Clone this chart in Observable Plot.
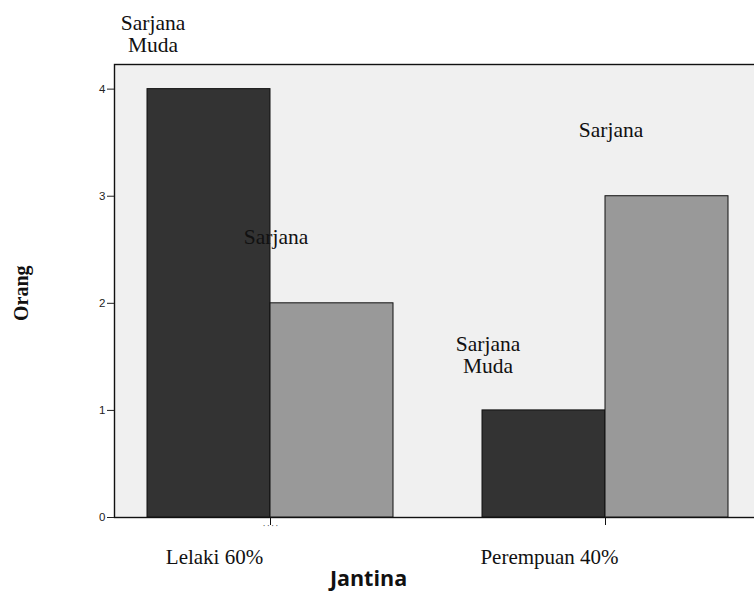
<!DOCTYPE html>
<html>
<head>
<meta charset="utf-8">
<script src="https://cdn.jsdelivr.net/npm/d3@7"></script>
<script src="https://cdn.jsdelivr.net/npm/@observablehq/plot@0.6"></script>
<style>
  html, body { margin: 0; padding: 0; background: #fff; overflow: hidden; }
  #chart svg { max-width: none !important; }
</style>
</head>
<body>
<div id="chart"></div>
<script>
// ---- data ----
const genders = ["Lelaki 60%", "Perempuan 40%"];
const levels = ["Sarjana Muda", "Sarjana"];
const levelLabels = ["Sarjana\nMuda", "Sarjana"];
const lelakiCounts = [4, 2];
const perempuanCounts = [1, 3];
const yTicks = [0, 1, 2, 3, 4];
const xTitle = "Jantina";
const yTitle = "Orang";

const counts = [lelakiCounts, perempuanCounts];
const rows = genders.flatMap((g, i) =>
  levels.map((l, j) => ({gender: g, level: l, value: counts[i][j], label: levelLabels[j]}))
);

const serif = "'Liberation Serif', 'Times New Roman', serif";
const sans = "'Liberation Sans', Arial, sans-serif";

const chart = Plot.plot({
  width: 770,
  height: 594,
  marginTop: 64,
  marginBottom: 77,
  marginLeft: 114,
  marginRight: 0,
  fx: {domain: genders, paddingInner: 0.0418, paddingOuter: 0, axis: null, label: null},
  x: {domain: levels, paddingInner: 0, paddingOuter: 0.2996, align: 0.446, axis: null, label: null},
  y: {domain: [0, 4.23], axis: null, label: null},
  marks: [
    Plot.frame({facet: "super", fill: "#f0f0f0", stroke: "#111", strokeWidth: 1.4}),
    Plot.barY(rows, {
      fx: "gender", x: "level", y: "value",
      fill: d => d.level === levels[0] ? "#333333" : "#999999",
      stroke: "#111", strokeWidth: 1
    }),
    Plot.axisY({
      ticks: yTicks, tickSize: 7, tickPadding: 2, label: null,
      fontSize: 11.5, fontFamily: sans, color: "#222", tickFormat: d3.format("d")
    }),
    Plot.axisFx({anchor: "bottom", tickSize: 8, dx: -4.5, fill: "none", stroke: "#111", label: null}),
    Plot.axisFx({anchor: "bottom", tickSize: 0, tickPadding: 32, dx: -60.5, label: null,
      fontSize: 21, fontFamily: serif, fill: "#111"}),
    Plot.text(rows, {
      fx: "gender", x: "level", y: "value", text: "label",
      lineAnchor: "top", dx: -56, dy: -75, lineHeight: 1.03,
      fontSize: 21.5, fontFamily: serif, fill: "#111"
    }),
    Plot.text([genders[0]], {fx: d => d, text: () => "· · · ·", frameAnchor: "bottom",
      dx: -4.5, dy: 11, fontSize: 8, fill: "#555"}),
    Plot.text([yTitle], {facet: "super", frameAnchor: "left", rotate: -90, dx: -93, dy: 30,
      fontSize: 20, fontWeight: "bold", fontFamily: serif, fill: "#111"}),
    Plot.text([xTitle], {facet: "super", frameAnchor: "bottom", dx: -74, dy: 68,
      fontSize: 21.5, fontWeight: "bold", fontFamily: "'Open Sans', sans-serif", fill: "#111"})
  ]
});
document.getElementById("chart").appendChild(chart);
</script>
</body>
</html>
